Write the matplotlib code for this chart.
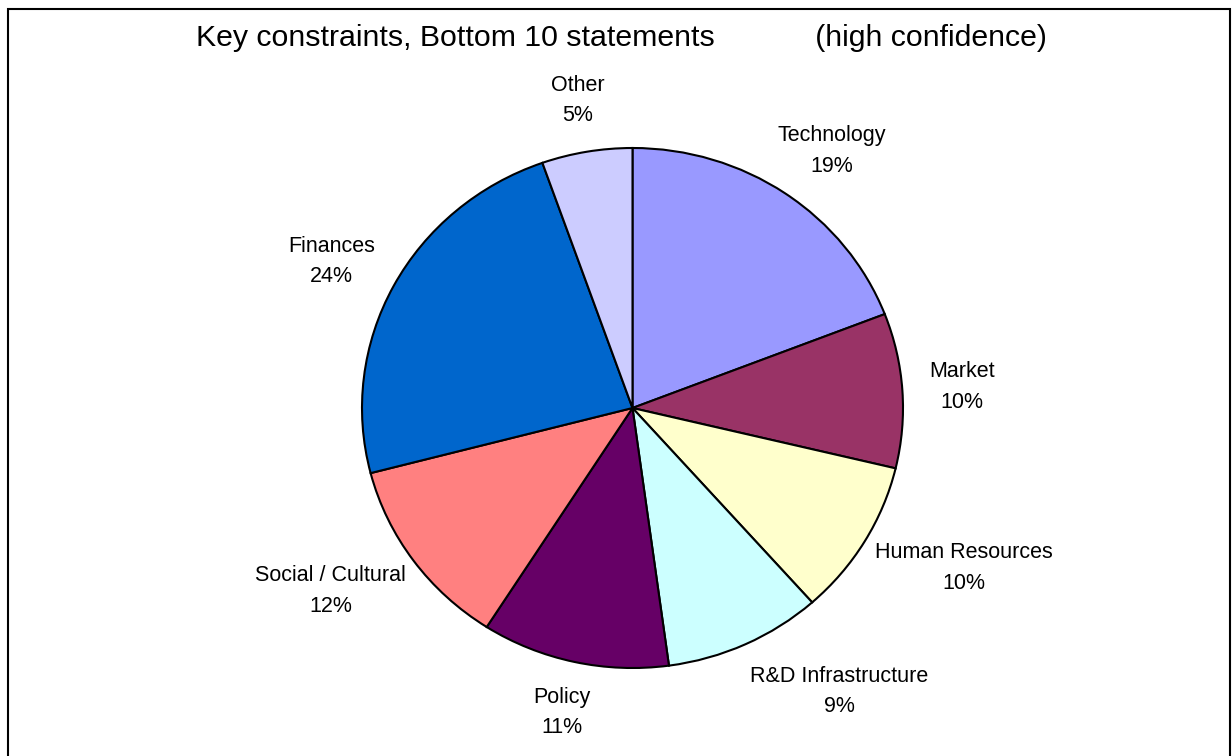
import numpy as np
import matplotlib
matplotlib.use("Agg")
import matplotlib.pyplot as plt
from matplotlib.transforms import ScaledTranslation
from matplotlib.patches import Rectangle

plt.rcParams['font.family'] = ['Liberation Sans', 'DejaVu Sans']

# data (share of statements, %)
categories = ["Technology", "Market", "Human Resources", "R&D Infrastructure",
              "Policy", "Social / Cultural", "Finances", "Other"]
shares = [19.1, 9.6, 9.7, 9.4, 11.2, 11.9, 23.6, 5.4]
colors = ["#9999FF", "#993366", "#FFFFCC", "#CCFFFF",
          "#660066", "#FF8080", "#0066CC", "#CCCCFF"]

W, H = 1232, 756
fig = plt.figure(figsize=(W / 100, H / 100), dpi=100)

# pie box in pixels: x 362..903, y 148..668
ax = fig.add_axes([362 / W, (H - 668) / H, 541 / W, 520 / H])
wedges, _ = ax.pie(shares, colors=colors, startangle=90, counterclock=False,
                   wedgeprops=dict(edgecolor="black", linewidth=1.5))
ax.set_aspect("auto")
ax.set_xlim(-1, 1)
ax.set_ylim(-1, 1)

total = sum(shares)
texts = []
for w, name, v in zip(wedges, categories, shares):
    ang = np.deg2rad((w.theta1 + w.theta2) / 2)
    t = ax.text(1.1 * np.cos(ang), 1.1 * np.sin(ang),
                f"{name}\n{v / total * 100:.0f}%",
                ha="center", va="center", fontsize=15.5, linespacing=1.6,
                multialignment="center")
    texts.append((t, ang, name))

# Excel shifted this one sideways to avoid the pie edge (pixels)
nudge = {"R&D Infrastructure": (45, 0)}

# push each label outward so its box edge sits at the anchor (Excel style)
fig.canvas.draw()
r = fig.canvas.get_renderer()
for t, ang, name in texts:
    bb = t.get_window_extent(r)
    nx, ny = nudge.get(name, (0, 0))
    dx = (bb.width / 2 * np.cos(ang) + nx) / fig.dpi
    dy = (bb.height / 2 * np.sin(ang) + ny) / fig.dpi
    t.set_transform(ax.transData + ScaledTranslation(dx, dy, fig.dpi_scale_trans))

fig.text(621 / W, 1 - 38 / H,
         "Key constraints, Bottom 10 statements            (high confidence)",
         ha="center", va="center", fontsize=21.8)

# chart border
fig.patches.append(Rectangle((8 / W, -0.02), (1230 - 8) / W, 1 - 9 / H + 0.02,
                             transform=fig.transFigure, fill=False,
                             edgecolor="black", linewidth=1.5))

fig.savefig("out.png", dpi=100)
